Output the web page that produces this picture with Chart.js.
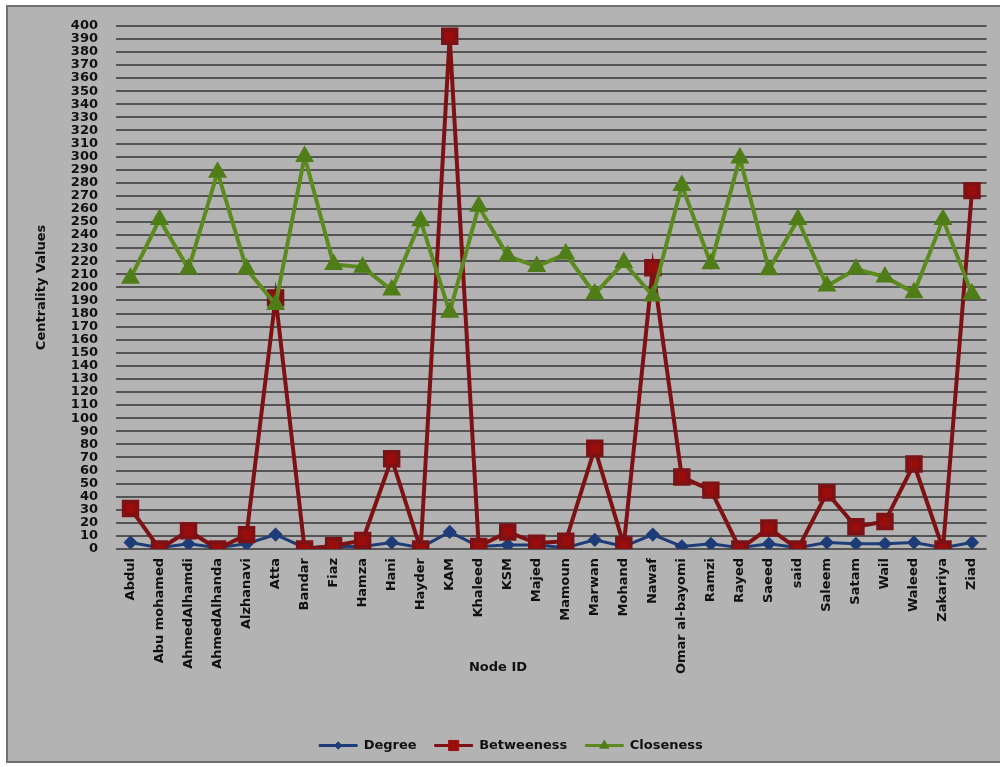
<!DOCTYPE html>
<html>
<head>
<meta charset="utf-8">
<script src="https://cdn.jsdelivr.net/npm/chart.js@4/dist/chart.umd.min.js"></script>
<style>
  html, body { margin: 0; padding: 0; background: #fff; }
  canvas { display: block; }
</style>
</head>
<body>
<canvas id="chart" width="1000" height="767"></canvas>
<script>
const nodes = ['Abdul', 'Abu mohamed', 'AhmedAlhamdi', 'AhmedAlhanda', 'Alzhanavi', 'Atta', 'Bandar', 'Fiaz',
  'Hamza', 'Hani', 'Hayder', 'KAM', 'Khaleed', 'KSM', 'Majed', 'Mamoun', 'Marwan', 'Mohand', 'Nawaf',
  'Omar al-bayomi', 'Ramzi', 'Rayed', 'Saeed', 'said', 'Saleem', 'Satam', 'Wail', 'Waleed', 'Zakariya', 'Ziad'];

const degree = [5, 1, 4, 1, 4, 11, 1, 2, 2, 5, 1, 13, 2, 3, 3, 1, 7, 2, 11, 2, 4, 1, 4, 1, 5, 4, 4, 5, 1, 5];
const betweeness = [31, 0, 14, 0, 11, 192, 0, 2.5, 6.5, 69, 0, 392, 2, 13, 4.5, 6, 77, 3, 215, 55, 45, 0, 16, 0, 43, 17, 21, 65, 0, 274];
const closeness = [207, 252, 214, 288, 214, 187, 300, 217.5, 215.5, 198, 251, 181, 262, 224, 216, 225.5, 195, 219, 193.5,
  278, 218, 299, 213.5, 252, 201, 214, 208, 196, 252, 195];

const yMax = 400;
const yStep = 10;

const boldFont = { family: "'DejaVu Sans', sans-serif", size: 13, weight: 'bold' };

// grey frame behind the whole chart
const framePlugin = {
  id: 'frame',
  beforeDraw(chart) {
    const { ctx } = chart;
    ctx.save();
    ctx.fillStyle = '#ffffff';
    ctx.fillRect(0, 0, chart.width, chart.height);
    ctx.fillStyle = '#b3b3b3';
    ctx.fillRect(7, 6, chart.width, 756);
    ctx.strokeStyle = '#707070';
    ctx.lineWidth = 2;
    ctx.strokeRect(7, 6, chart.width, 756);
    ctx.restore();
  },
};

// "Node ID" title and line markers in the legend
const extrasPlugin = {
  id: 'extras',
  afterDraw(chart) {
    const { ctx } = chart;
    ctx.save();
    ctx.font = `bold ${boldFont.size}px ${boldFont.family}`;
    ctx.fillStyle = '#111';
    ctx.textAlign = 'center';
    ctx.textBaseline = 'middle';
    ctx.fillText('Node ID', 498, 668);

    const boxes = chart.legend.legendHitBoxes || [];
    const items = chart.legend.legendItems || [];
    boxes.forEach((box, i) => {
      const ds = chart.data.datasets[items[i].datasetIndex];
      ctx.fillStyle = ds.pointBackgroundColor;
      ctx.strokeStyle = ds.pointBackgroundColor;
      Chart.helpers.drawPoint(ctx, {
        pointStyle: ds.pointStyle,
        radius: ds.pointRadius * 0.75,
        rotation: 0,
        borderWidth: 1,
      }, box.left + chart.legend.options.labels.boxWidth / 2, box.top + box.height / 2);
    });
    ctx.restore();
  },
};

new Chart(document.getElementById('chart'), {
  type: 'line',
  data: {
    labels: nodes,
    datasets: [
      {
        label: 'Degree',
        data: degree,
        borderColor: '#1d3c78',
        backgroundColor: '#1d3c78',
        pointBackgroundColor: '#1d3c78',
        pointBorderColor: '#1d3c78',
        borderWidth: 3,
        pointStyle: 'rectRot',
        pointRadius: 5,
        order: 3,
      },
      {
        label: 'Betweeness',
        data: betweeness,
        borderColor: '#7e1114',
        backgroundColor: '#7e1114',
        pointBackgroundColor: '#9a0d0d',
        pointBorderColor: '#7e1114',
        borderWidth: 4,
        pointStyle: 'rect',
        pointRadius: 9.5,
        order: 2,
      },
      {
        label: 'Closeness',
        data: closeness,
        borderColor: '#5b8a1e',
        backgroundColor: '#5b8a1e',
        pointBackgroundColor: '#4f7d18',
        pointBorderColor: '#4f7d18',
        borderWidth: 4,
        pointStyle: 'triangle',
        pointRadius: 7,
        order: 1,
      },
    ],
  },
  options: {
    responsive: false,
    animation: false,
    tension: 0,
    layout: { padding: { left: 30, right: 8, top: 20, bottom: 5 } },
    plugins: {
      tooltip: { enabled: false },
      legend: {
        position: 'bottom',
        labels: {
          font: boldFont,
          color: '#111',
          boxWidth: 38,
          boxHeight: 2,
          padding: 18,
          sort: (a, b) => a.datasetIndex - b.datasetIndex,
          generateLabels(chart) {
            const items = Chart.defaults.plugins.legend.labels.generateLabels(chart);
            return items.map((item) => ({ ...item, lineWidth: 1 }));
          },
        },
      },
    },
    scales: {
      x: {
        offset: true,
        grid: { display: false, drawTicks: false },
        border: { display: false },
        ticks: {
          font: boldFont,
          color: '#111',
          minRotation: 90,
          maxRotation: 90,
          autoSkip: false,
          padding: 9,
        },
        afterFit(scale) { scale.height = 172; },
      },
      y: {
        min: 0,
        max: yMax,
        grid: { color: '#545454', lineWidth: 2, drawTicks: false },
        border: { display: false },
        ticks: {
          stepSize: yStep,
          autoSkip: false,
          maxTicksLimit: 100,
          font: boldFont,
          color: '#111',
          padding: 18,
        },
        title: {
          display: true,
          text: 'Centrality Values',
          font: boldFont,
          color: '#111',
          padding: 4,
        },
        afterFit(scale) { scale.width = 86; },
      },
    },
  },
  plugins: [framePlugin, extrasPlugin],
});
</script>
</body>
</html>
